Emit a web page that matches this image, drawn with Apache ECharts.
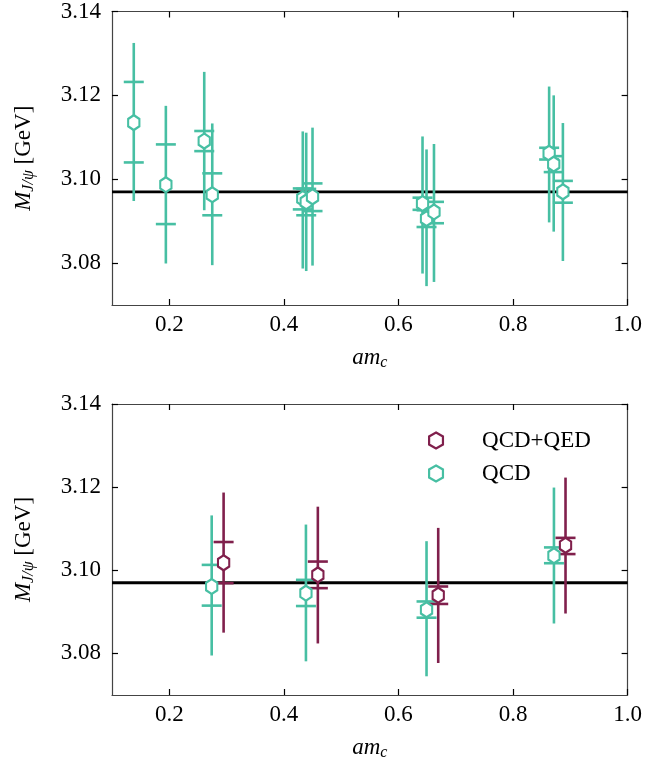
<!DOCTYPE html>
<html><head><meta charset="utf-8">
<script src="https://cdn.jsdelivr.net/npm/echarts@6/dist/echarts.min.js"></script>
<style>html,body{margin:0;padding:0;background:#fff}#c{width:645px;height:762px}</style>
</head><body><div id="c"></div>
<script>
// reference mass line
const refMass = 3.097;
const xTicks = [0.2, 0.4, 0.6, 0.8, 1.0];
const yTicks = [3.08, 3.10, 3.12, 3.14];

// Top panel: QCD
const topX      = [0.138, 0.194, 0.261, 0.275, 0.433, 0.439, 0.450, 0.642, 0.649, 0.662, 0.863, 0.871, 0.887];
const topY      = [3.1135, 3.0987, 3.1091, 3.0963, 3.0954, 3.0946, 3.0958, 3.0942, 3.0906, 3.0922, 3.1062, 3.1036, 3.0970];
const topStatLo = [3.1040, 3.0893, 3.1067, 3.0914, 3.0928, 3.0914, 3.0924, 3.0927, 3.0886, 3.0895, 3.1047, 3.1017, 3.0944];
const topStatHi = [3.1232, 3.1083, 3.1115, 3.1014, 3.0978, 3.0977, 3.0990, 3.0956, 3.0926, 3.0946, 3.1075, 3.1055, 3.0996];
const topTotLo  = [3.0948, 3.0799, 3.0926, 3.0795, 3.0787, 3.0781, 3.0794, 3.0775, 3.0745, 3.0755, 3.0897, 3.0875, 3.0805];
const topTotHi  = [3.1325, 3.1175, 3.1256, 3.1133, 3.1114, 3.1111, 3.1123, 3.1102, 3.1071, 3.1084, 3.1221, 3.1200, 3.1134];

// Bottom panel: QCD
const qcdX      = [0.274, 0.4385, 0.649, 0.8714];
const qcdY      = [3.0961, 3.0945, 3.0905, 3.1035];
const qcdStatLo = [3.0915, 3.0914, 3.0886, 3.1017];
const qcdStatHi = [3.1013, 3.0977, 3.0925, 3.1055];
const qcdTotLo  = [3.0795, 3.0781, 3.0745, 3.0872];
const qcdTotHi  = [3.1132, 3.1110, 3.1070, 3.1199];

// Bottom panel: QCD+QED
const qedX      = [0.2948, 0.4593, 0.6694, 0.8916];
const qedY      = [3.1018, 3.0989, 3.0940, 3.1060];
const qedStatLo = [3.0969, 3.0957, 3.0919, 3.1039];
const qedStatHi = [3.1068, 3.1021, 3.0961, 3.1078];
const qedTotLo  = [3.0850, 3.0824, 3.0777, 3.0896];
const qedTotHi  = [3.1187, 3.1153, 3.1102, 3.1223];

const TEAL = '#47bfa3';
const MAROON = '#80204c';
const FONT = '"Liberation Serif", "Times New Roman", serif';
const FS = 23;
const HEX = 'path://M0,-1L0.866,-0.5L0.866,0.5L0,1L-0.866,0.5L-0.866,-0.5Z';

function pts(xs, ys) { return xs.map((x, i) => [x, ys[i]]); }
function errData(xs, ys, sl, sh, tl, th) { return xs.map((x, i) => [x, ys[i], sl[i], sh[i], tl[i], th[i]]); }

function errSeries(name, data, color, idx) {
  return {
    type: 'custom', name: name, xAxisIndex: idx * 2, yAxisIndex: idx * 2, z: 3, silent: true,
    data: data,
    renderItem: function (params, api) {
      const x = api.value(0);
      const pTop = api.coord([x, api.value(5)]);
      const pBot = api.coord([x, api.value(4)]);
      const sTop = api.coord([x, api.value(3)]);
      const sBot = api.coord([x, api.value(2)]);
      const st = { stroke: color, lineWidth: 2.6 };
      const cw = 10;
      return { type: 'group', children: [
        { type: 'line', shape: { x1: pTop[0], y1: pTop[1], x2: pBot[0], y2: pBot[1] }, style: st },
        { type: 'line', shape: { x1: sTop[0] - cw, y1: sTop[1], x2: sTop[0] + cw, y2: sTop[1] }, style: st },
        { type: 'line', shape: { x1: sBot[0] - cw, y1: sBot[1], x2: sBot[0] + cw, y2: sBot[1] }, style: st }
      ]};
    }
  };
}
function markSeries(name, data, color, idx) {
  return {
    type: 'scatter', name: name, xAxisIndex: idx * 2, yAxisIndex: idx * 2, z: 4,
    symbol: HEX, symbolSize: [13, 15], symbolKeepAspect: true,
    itemStyle: { color: '#fff', borderColor: color, borderWidth: 2.2, opacity: 1 },
    data: data
  };
}
function refSeries(idx) {
  return {
    type: 'line', xAxisIndex: idx * 2, yAxisIndex: idx * 2, z: 2, silent: true,
    symbol: 'none', data: [[0.1, refMass], [1.0, refMass]],
    lineStyle: { color: '#000', width: 2.8 }
  };
}

const axisLine = { show: true, lineStyle: { color: '#444', width: 1.2 } };
const rich = {
  i: { fontFamily: FONT, fontStyle: 'italic', fontSize: FS, color: '#000' },
  r: { fontFamily: FONT, fontSize: FS, color: '#000' },
  s: { fontFamily: FONT, fontStyle: 'italic', fontSize: 16, color: '#000', padding: [10, 0, 0, 0] }
};
function xAxes(gi) {
  const tick = { inside: true, length: 6, lineStyle: { color: '#000', width: 1.2 }, customValues: xTicks };
  return [
    { type: 'value', gridIndex: gi, min: 0.1, max: 1.0, position: 'bottom',
      axisLine: axisLine, axisTick: tick, splitLine: { show: false },
      axisLabel: { customValues: xTicks, formatter: v => v.toFixed(1), color: '#000', fontFamily: FONT, fontSize: FS, margin: 8 },
      name: '{i|am}{s|c}', nameLocation: 'middle', nameGap: 40,
      nameTextStyle: { rich: rich } },
    { type: 'value', gridIndex: gi, min: 0.1, max: 1.0, position: 'top',
      axisLine: axisLine, axisTick: tick, axisLabel: { show: false }, splitLine: { show: false } }
  ];
}
function yAxes(gi) {
  const tick = { inside: true, length: 6, lineStyle: { color: '#000', width: 1.2 }, customValues: yTicks };
  return [
    { type: 'value', gridIndex: gi, min: 3.07, max: 3.14, position: 'left',
      axisLine: axisLine, axisTick: tick, splitLine: { show: false },
      axisLabel: { customValues: yTicks, formatter: v => v.toFixed(2), color: '#000', fontFamily: FONT, fontSize: FS, margin: 11 },
      name: '{i|M}{s|J/ψ}{r| [GeV]}', nameLocation: 'middle', nameGap: 75, nameRotate: 90,
      nameTextStyle: { fontFamily: FONT, fontSize: FS, color: '#000', rich: rich } },
    { type: 'value', gridIndex: gi, min: 3.07, max: 3.14, position: 'right',
      axisLine: axisLine, axisTick: tick, axisLabel: { show: false }, splitLine: { show: false } }
  ];
}

const chart = echarts.init(document.getElementById('c'), null, { renderer: 'canvas' });
chart.setOption({
  animation: false,
  backgroundColor: '#fff',
  grid: [
    { left: 112, right: 15, top: 11, height: 294 },
    { left: 112, right: 15, top: 404, height: 294 }
  ],
  xAxis: [...xAxes(0), ...xAxes(1)],
  yAxis: [...yAxes(0), ...yAxes(1)],
  legend: {
    left: 423, top: 424, orient: 'vertical', itemGap: 10, itemWidth: 14, itemHeight: 16,
    textStyle: { fontFamily: FONT, fontSize: FS, color: '#000', padding: [0, 0, 0, 34] },
    data: [
      { name: 'QCD+QED', icon: HEX, itemStyle: { color: '#fff', borderColor: MAROON, borderWidth: 2.2 } },
      { name: 'QCD', icon: HEX, itemStyle: { color: '#fff', borderColor: TEAL, borderWidth: 2.2 } }
    ]
  },
  series: [
    refSeries(0),
    errSeries('QCD top', errData(topX, topY, topStatLo, topStatHi, topTotLo, topTotHi), TEAL, 0),
    markSeries('QCD top', pts(topX, topY), TEAL, 0),
    refSeries(1),
    errSeries('QCD', errData(qcdX, qcdY, qcdStatLo, qcdStatHi, qcdTotLo, qcdTotHi), TEAL, 1),
    markSeries('QCD', pts(qcdX, qcdY), TEAL, 1),
    errSeries('QCD+QED', errData(qedX, qedY, qedStatLo, qedStatHi, qedTotLo, qedTotHi), MAROON, 1),
    markSeries('QCD+QED', pts(qedX, qedY), MAROON, 1)
  ]
});
</script>
</body></html>
